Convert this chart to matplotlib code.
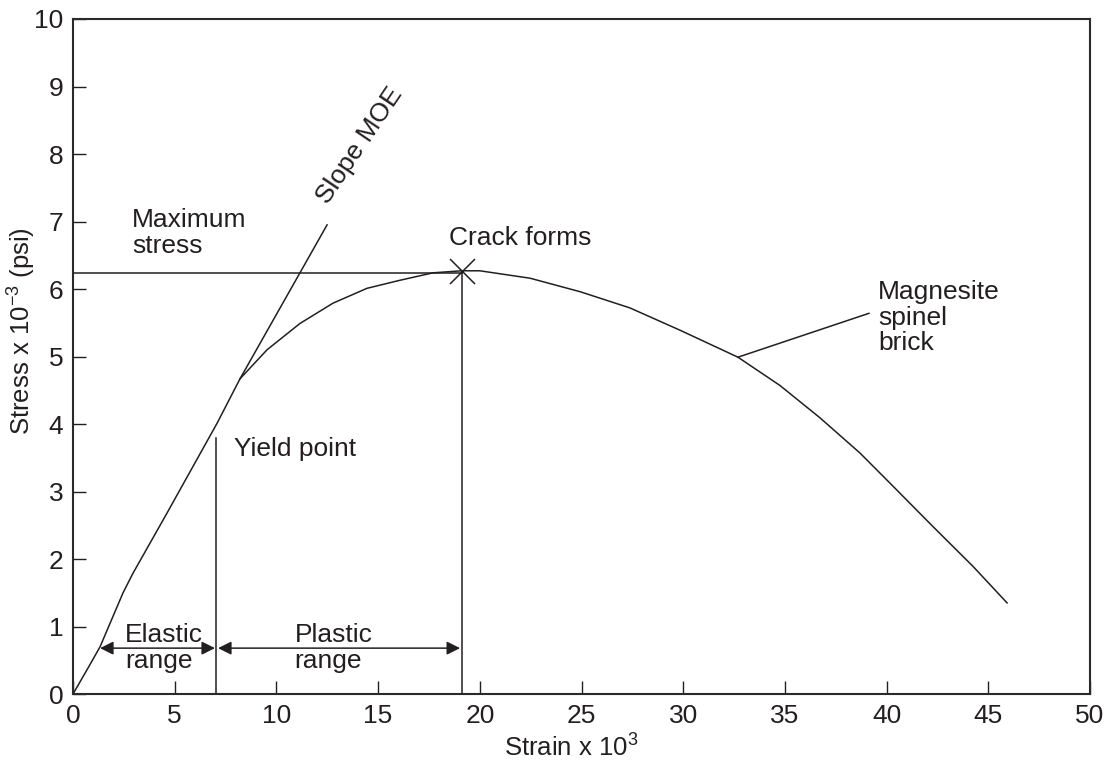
import matplotlib
matplotlib.use("Agg")
import matplotlib.pyplot as plt

plt.rcParams['font.family'] = ['Liberation Sans', 'DejaVu Sans']
plt.rcParams['mathtext.default'] = 'regular'

INK = '#231f20'

# stress-strain curve for magnesite spinel brick
strain = [0, 0.69, 1.33, 2.46, 2.95, 4.62, 5.6, 7.08, 8.21, 9.54, 11.16,
          12.78, 14.45, 16.08, 17.7, 19.12, 20.0, 22.47, 24.93, 27.38,
          29.84, 32.69, 34.76, 36.73, 38.69, 40.31, 42.28, 44.25, 45.92]
stress = [0, 0.36, 0.70, 1.50, 1.79, 2.68, 3.21, 4.01, 4.67, 5.10, 5.49,
          5.79, 6.01, 6.13, 6.24, 6.27, 6.27, 6.16, 5.96, 5.72,
          5.39, 4.99, 4.57, 4.09, 3.57, 3.08, 2.48, 1.89, 1.35]

moe_x = [8.21, 12.49]
moe_y = [4.67, 6.95]

yield_strain = 7.03
yield_top = 3.8
crack_strain = 19.12
crack_stress = 6.27
max_stress = 6.23
arrow_y = 0.68
elastic_span = [1.33, 6.98]
plastic_span = [7.13, 19.03]
leader_x = [32.69, 39.13]
leader_y = [4.99, 5.64]

fig = plt.figure(figsize=(11.18, 7.6), dpi=100)
ax = fig.add_axes([0.0653, 0.0868, 0.9097, 0.8882])

lw = 1.1
ax.plot(strain, stress, color=INK, lw=lw)
ax.plot(moe_x, moe_y, color=INK, lw=lw)
ax.plot([0, crack_strain], [max_stress, max_stress], color=INK, lw=lw)
ax.plot([crack_strain, crack_strain], [0, crack_stress], color=INK, lw=lw)
ax.plot([yield_strain, yield_strain], [0, yield_top], color=INK, lw=lw)
ax.plot(crack_strain, crack_stress, marker='x', ms=18, mew=1.1, color=INK)
ax.plot(leader_x, leader_y, color=INK, lw=lw)

for x0, x1 in [elastic_span, plastic_span]:
    ax.annotate('', xy=(x1, arrow_y), xytext=(x0, arrow_y),
                arrowprops=dict(arrowstyle='<|-|>', color=INK, lw=lw,
                                mutation_scale=20, shrinkA=0, shrinkB=0))

fs = 19
def label(x, y, lines, step=0.38):
    for i, s in enumerate(lines):
        ax.text(x, y - i * step, s, fontsize=fs, color=INK,
                ha='left', va='baseline')

label(2.9, 6.92, ['Maximum', 'stress'])
label(7.9, 3.53, ['Yield point'])
label(18.49, 6.65, ['Crack forms'])
label(39.58, 5.85, ['Magnesite', 'spinel', 'brick'])
label(2.56, 0.77, ['Elastic'])
label(2.56, 0.385, ['range'])
label(10.9, 0.77, ['Plastic'])
label(10.9, 0.385, ['range'])
ax.text(12.54, 7.24, 'Slope MOE', fontsize=fs, color=INK, rotation=56,
        rotation_mode='anchor', ha='left', va='baseline')

ax.set_xlim(0, 50)
ax.set_ylim(0, 10)
ax.set_xticks(range(0, 51, 5))
ax.set_yticks(range(0, 11))
ax.tick_params(direction='in', length=9.5, width=1.0, color=INK,
               labelsize=fs, labelcolor=INK, pad=7)
for sp in ax.spines.values():
    sp.set_linewidth(1.5)
    sp.set_color('#2a2a2a')

ax.set_xlabel('Strain x 10$^{3}$', fontsize=18.5, color=INK)
ax.set_ylabel('Stress x 10$^{-3}$ (psi)', fontsize=18.5, color=INK)
ax.xaxis.set_label_coords(0.49, -0.06)
ax.yaxis.set_label_coords(-0.0506, 0.538)
ax.yaxis.label.set_va('center')

fig.savefig('out.png', dpi=100)
